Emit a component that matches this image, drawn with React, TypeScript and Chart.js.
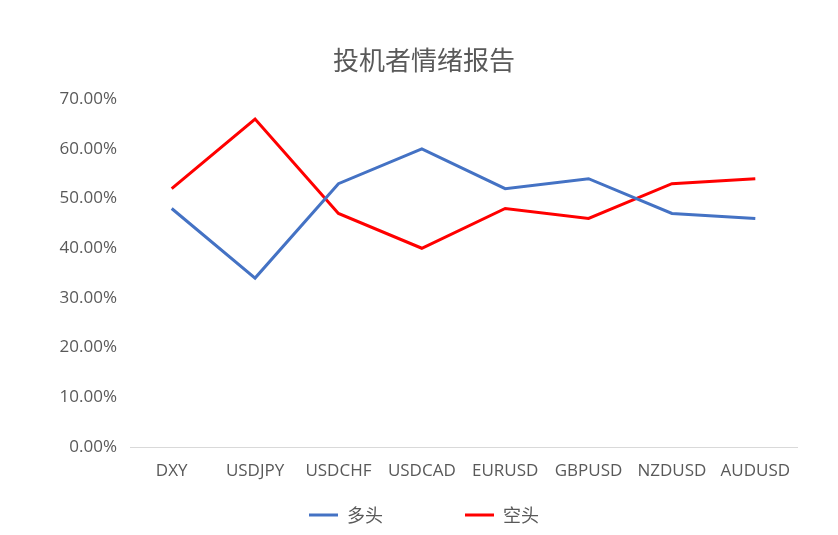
import React, { useEffect, useRef } from "react";
import { Chart, registerables } from "chart.js";

Chart.register(...registerables);

const categories = ["DXY", "USDJPY", "USDCHF", "USDCAD", "EURUSD", "GBPUSD", "NZDUSD", "AUDUSD"];
const longValues = [48, 34, 53, 60, 52, 54, 47, 46];
const shortValues = [52, 66, 47, 40, 48, 46, 53, 54];
const seriesNames = ["多头", "空头"];
const titleText = "投机者情绪报告";

const CJK = "'Noto Sans CJK SC', sans-serif";
const LATIN = "'Open Sans', 'Noto Sans CJK SC', sans-serif";
const TEXT = "#595959";

export default function App() {
  const ref = useRef<HTMLCanvasElement>(null);
  useEffect(() => {
    document.body.style.margin = "0";
    const ctx = ref.current!;
    const chart = new Chart(ctx, {
      type: "line",
      data: {
        labels: categories,
        datasets: [
          {
            label: seriesNames[0],
            data: longValues,
            borderColor: "#4472C4",
            backgroundColor: "#4472C4",
            borderWidth: 3,
            pointRadius: 0,
            pointStyle: "line",
            tension: 0,
          },
          {
            label: seriesNames[1],
            data: shortValues,
            borderColor: "#FF0000",
            backgroundColor: "#FF0000",
            borderWidth: 3,
            pointRadius: 0,
            pointStyle: "line",
            tension: 0,
          },
        ],
      },
      options: {
        responsive: false,
        animation: false,
        layout: { padding: { left: 51, right: 41, top: 0, bottom: 1 } },
        plugins: {
          title: {
            display: true,
            text: titleText,
            color: TEXT,
            font: { family: CJK, size: 26, weight: "normal" },
            padding: { top: 45, bottom: 23 },
          },
          legend: {
            position: "bottom",
            labels: {
              color: TEXT,
              font: { family: CJK, size: 18 },
              usePointStyle: true,
              pointStyleWidth: 29,
              padding: 10,
              generateLabels: (c: any) => {
                const items = Chart.defaults.plugins.legend.labels.generateLabels(c);
                items.forEach((it: any, i: number) => {
                  if (i === 0) it.text = it.text + "\u3000\u3000\u3000\u3000";
                  it.lineWidth = 3;
                });
                return items;
              },
            },
          },
          tooltip: { enabled: false },
        },
        scales: {
          x: {
            offset: true,
            grid: { display: false, drawTicks: false },
            border: { display: true, color: "#D9D9D9", width: 1 },
            ticks: { color: TEXT, font: { family: LATIN, size: 17 }, padding: 14, maxRotation: 0 },
            afterFit: (s: any) => {
              s.height = 49;
            },
          },
          y: {
            min: 0,
            max: 70,
            grid: { display: false, drawTicks: false },
            border: { display: false },
            ticks: {
              stepSize: 10,
              color: TEXT,
              font: { family: LATIN, size: 17 },
              padding: 13,
              callback: (v: any) => Number(v).toFixed(2) + "%",
            },
            afterFit: (s: any) => {
              s.width = 79;
            },
          },
        },
      },
    });
    return () => chart.destroy();
  }, []);
  return (
    <div style={{ width: 838, height: 535 }}>
      <canvas ref={ref} width={838} height={535} style={{ display: "block" }} />
    </div>
  );
}
